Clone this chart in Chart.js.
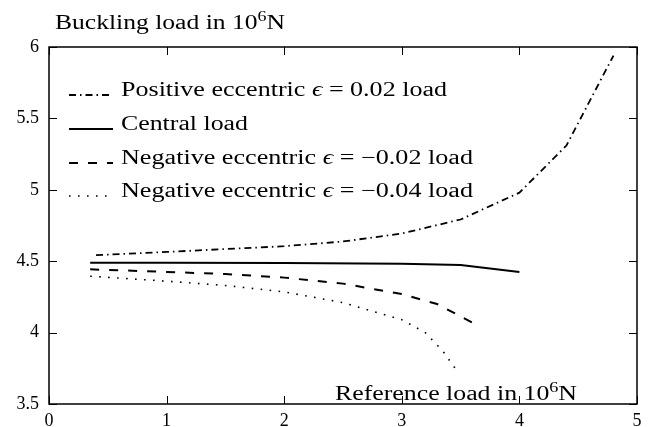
<!DOCTYPE html>
<html>
<head>
<meta charset="utf-8">
<script src="https://cdn.jsdelivr.net/npm/chart.js@4.4.1/dist/chart.umd.min.js"></script>
<style>
  html, body { margin: 0; padding: 0; background: #fff; }
  #wrap { width: 652px; height: 427px; }
</style>
</head>
<body>
<div id="wrap"><canvas id="c" width="652" height="427"></canvas></div>
<script>
// axis ticks
const xTicks = [0, 1, 2, 3, 4, 5];
const yTicks = [3.5, 4, 4.5, 5, 5.5, 6];
const xTickLabels = ['0', '1', '2', '3', '4', '5'];
const yTickLabels = ['3.5', '4', '4.5', '5', '5.5', '6'];

// series (reference load / buckling load, both in 10^6 N)
const posX = [0.4, 1, 1.5, 2, 2.5, 3, 3.5, 4, 4.4, 4.8];
const posY = [4.542, 4.565, 4.585, 4.605, 4.638, 4.694, 4.792, 4.98, 5.31, 5.94];
const cenX = [0.35, 1, 2, 3, 3.5, 4];
const cenY = [4.49, 4.49, 4.488, 4.482, 4.474, 4.425];
const neg2X = [0.35, 1, 1.5, 2, 2.5, 3, 3.3, 3.6];
const neg2Y = [4.443, 4.425, 4.41, 4.385, 4.343, 4.27, 4.2, 4.07];
const neg4X = [0.35, 1, 1.5, 2, 2.5, 3, 3.2, 3.35, 3.47];
const neg4Y = [4.395, 4.36, 4.33, 4.285, 4.21, 4.09, 4.0, 3.87, 3.73];

const seriesNames = [
  'Positive eccentric ϵ = 0.02 load',
  'Central load',
  'Negative eccentric ϵ = −0.02 load',
  'Negative eccentric ϵ = −0.04 load'
];
const yTitle = ['Buckling load in 10', '6', 'N'];
const xTitle = ['Reference load in 10', '6', 'N'];

const SERIF = '"Liberation Serif", "DejaVu Serif", serif';
const styles = [
  { dash: [7, 4, 1.5, 4], width: 1.8 },
  { dash: [], width: 2 },
  { dash: [9, 10], width: 2 },
  { dash: [1.6, 7.4], width: 1.6 }
];

const pts = (xs, ys) => xs.map((x, i) => ({ x: x, y: ys[i] }));
const seriesData = [pts(posX, posY), pts(cenX, cenY), pts(neg2X, neg2Y), pts(neg4X, neg4Y)];

// draws a row of text pieces, squeezed/stretched to a target width
function drawRuns(ctx, runs, x, y, width) {
  let total = 0;
  runs.forEach(r => { ctx.font = r.font; r.w = ctx.measureText(r.t).width; total += r.w; });
  const k = width ? width / total : 1;
  ctx.save();
  ctx.translate(x, y);
  ctx.scale(k, 1);
  let cx = 0;
  runs.forEach(r => { ctx.font = r.font; ctx.fillText(r.t, cx, r.dy || 0); cx += r.w; });
  ctx.restore();
}

function titleRuns(parts) {
  return [
    { t: parts[0], font: '20px ' + SERIF },
    { t: parts[1], font: '14px ' + SERIF, dy: -8 },
    { t: parts[2], font: '20px ' + SERIF }
  ];
}

function nameRuns(name) {
  const i = name.indexOf('ϵ');
  if (i < 0) return [{ t: name, font: '20px ' + SERIF }];
  return [
    { t: name.slice(0, i), font: '20px ' + SERIF },
    { t: 'ϵ', font: 'italic 20px ' + SERIF },
    { t: name.slice(i + 1), font: '20px ' + SERIF }
  ];
}

const frame = {
  id: 'frame',
  afterDraw(chart) {
    const ctx = chart.ctx, a = chart.chartArea;
    const xs = chart.scales.x, ys = chart.scales.y;
    ctx.save();
    ctx.strokeStyle = '#000';
    ctx.lineWidth = 1.5;
    ctx.setLineDash([]);
    ctx.strokeRect(a.left, a.top, a.right - a.left, a.bottom - a.top);
    ctx.lineWidth = 1;
    ctx.beginPath();
    xs.ticks.forEach(t => {
      const px = Math.round(xs.getPixelForValue(t.value)) + 0.5;
      ctx.moveTo(px, a.bottom); ctx.lineTo(px, a.bottom - 8);
      ctx.moveTo(px, a.top); ctx.lineTo(px, a.top + 8);
    });
    ys.ticks.forEach(t => {
      const py = Math.round(ys.getPixelForValue(t.value)) + 0.5;
      ctx.moveTo(a.left, py); ctx.lineTo(a.left + 8, py);
      ctx.moveTo(a.right, py); ctx.lineTo(a.right - 8, py);
    });
    ctx.stroke();

    // axis titles
    ctx.fillStyle = '#000';
    ctx.textBaseline = 'alphabetic';
    drawRuns(ctx, titleRuns(yTitle), 55, 29, 230);
    drawRuns(ctx, titleRuns(xTitle), 335, 400, 242);

    // legend
    const rows = [96, 130, 164, 197];
    const widths = [326, 127, 352, 352];
    seriesNames.forEach((n, i) => {
      ctx.strokeStyle = '#000';
      ctx.lineWidth = styles[i].width;
      ctx.setLineDash(styles[i].dash);
      ctx.beginPath();
      ctx.moveTo(69, rows[i] - 1);
      ctx.lineTo(113, rows[i] - 1);
      ctx.stroke();
      ctx.setLineDash([]);
      drawRuns(ctx, nameRuns(n), 121, rows[i], widths[i]);
    });
    ctx.restore();
  }
};

const tickFont = { family: SERIF, size: 18 };

new Chart(document.getElementById('c'), {
  type: 'line',
  data: {
    datasets: seriesData.map((d, i) => ({
      label: seriesNames[i],
      data: d,
      borderColor: '#000',
      borderWidth: styles[i].width,
      borderDash: styles[i].dash,
      pointRadius: 0,
      tension: 0,
      fill: false
    }))
  },
  options: {
    responsive: false,
    animation: false,
    devicePixelRatio: 1,
    layout: { padding: { left: 0, top: 47, right: 15, bottom: 0 } },
    plugins: { legend: { display: false }, tooltip: { enabled: false } },
    scales: {
      x: {
        type: 'linear', min: 0, max: 5,
        grid: { display: false, drawTicks: false },
        border: { display: false },
        afterBuildTicks: s => { s.ticks = xTicks.map(v => ({ value: v })); },
        afterFit: s => { s.height = 23; },
        ticks: {
          padding: 6, color: '#000', font: tickFont, maxRotation: 0, autoSkip: false,
          callback: (v, i) => xTickLabels[i]
        }
      },
      y: {
        type: 'linear', min: 3.5, max: 6,
        grid: { display: false, drawTicks: false },
        border: { display: false },
        afterBuildTicks: s => { s.ticks = yTicks.map(v => ({ value: v })); },
        afterFit: s => { s.width = 49; },
        ticks: {
          padding: 10, color: '#000', font: tickFont, autoSkip: false,
          callback: (v, i) => yTickLabels[i]
        }
      }
    }
  },
  plugins: [frame]
});
</script>
</body>
</html>
